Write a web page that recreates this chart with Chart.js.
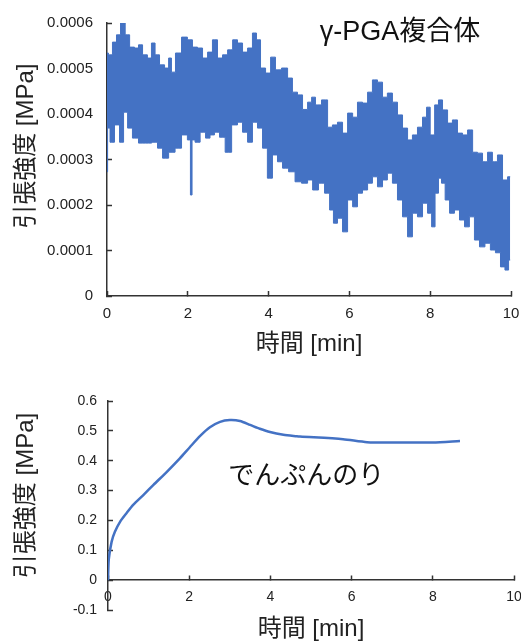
<!DOCTYPE html>
<html>
<head>
<meta charset="utf-8">
<script src="https://cdn.jsdelivr.net/npm/chart.js@4.4.1/dist/chart.umd.min.js"></script>
<style>
  html, body { margin: 0; padding: 0; background: #fff; }
  #wrap { position: relative; width: 521px; height: 641px; overflow: hidden; }
  canvas { position: absolute; left: 0; }
</style>
</head>
<body>
<div id="wrap">
  <canvas id="pgaChart" width="521" height="360" style="top:0"></canvas>
  <canvas id="starchChart" width="521" height="281" style="top:360px"></canvas>
</div>
<script>
// γ-PGA: upper and lower edge of the oscillating signal (time in min, stress in MPa)
const pgaUpperTime = [0, 0.07, 0.2, 0.27, 0.4, 0.5, 0.62, 0.74, 0.82, 0.94, 1.06, 1.14, 1.24, 1.36, 1.49, 1.56, 1.63, 1.76, 1.93, 2.05, 2.18, 2.3, 2.43, 2.55, 2.67, 2.8, 2.92, 3.05, 3.17, 3.29, 3.42, 3.54, 3.66, 3.74, 3.86, 3.99, 4.11, 4.23, 4.41, 4.53, 4.65, 4.78, 4.9, 5.03, 5.1, 5.22, 5.4, 5.52, 5.64, 5.77, 5.89, 6.02, 6.14, 6.26, 6.39, 6.51, 6.63, 6.76, 6.88, 7.0, 7.13, 7.25, 7.38, 7.5, 7.62, 7.75, 7.87, 7.95, 8.05, 8.17, 8.24, 8.37, 8.49, 8.61, 8.74, 8.86, 8.99, 9.11, 9.23, 9.36, 9.48, 9.6, 9.73, 9.85, 9.98];
const pgaUpper = [0.000534, 0.00053, 0.000558, 0.000574, 0.0006, 0.000574, 0.000547, 0.000545, 0.000552, 0.00053, 0.000523, 0.000556, 0.00053, 0.000508, 0.000501, 0.000523, 0.000492, 0.000534, 0.000569, 0.000563, 0.000547, 0.000545, 0.000523, 0.000536, 0.000563, 0.000523, 0.00053, 0.000541, 0.000563, 0.000556, 0.000536, 0.000545, 0.000578, 0.000563, 0.000501, 0.00049, 0.000525, 0.000497, 0.000501, 0.000479, 0.000448, 0.000442, 0.00041, 0.000426, 0.000437, 0.00042, 0.000431, 0.000371, 0.000376, 0.000382, 0.000358, 0.000402, 0.000393, 0.000426, 0.000424, 0.000448, 0.000475, 0.00047, 0.000437, 0.000446, 0.000426, 0.000398, 0.000369, 0.000343, 0.000354, 0.000371, 0.000393, 0.000415, 0.000354, 0.00042, 0.000431, 0.000409, 0.00038, 0.000387, 0.000358, 0.000354, 0.000365, 0.000316, 0.000314, 0.000295, 0.000316, 0.000295, 0.00031, 0.000255, 0.000262];
const pgaLowerTime = [0, 0.03, 0.12, 0.25, 0.37, 0.45, 0.57, 0.69, 0.87, 1.02, 1.19, 1.31, 1.44, 1.61, 1.76, 1.93, 2.05, 2.08, 2.13, 2.23, 2.38, 2.5, 2.6, 2.72, 2.85, 3.0, 3.17, 3.29, 3.42, 3.54, 3.66, 3.79, 3.91, 4.03, 4.16, 4.28, 4.41, 4.58, 4.73, 4.9, 5.03, 5.15, 5.32, 5.45, 5.57, 5.64, 5.77, 5.89, 6.02, 6.14, 6.26, 6.39, 6.51, 6.63, 6.76, 6.88, 7.0, 7.13, 7.25, 7.38, 7.5, 7.62, 7.75, 7.87, 8.0, 8.07, 8.17, 8.24, 8.32, 8.42, 8.54, 8.66, 8.79, 8.91, 9.03, 9.16, 9.28, 9.43, 9.55, 9.68, 9.8, 9.9, 9.98];
const pgaLower = [0.000273, 0.000369, 0.000338, 0.000376, 0.000338, 0.000404, 0.000369, 0.000347, 0.000336, 0.000336, 0.000338, 0.000325, 0.000303, 0.000316, 0.000325, 0.000354, 0.000343, 0.000222, 0.000343, 0.000338, 0.00036, 0.000347, 0.000354, 0.00036, 0.000349, 0.000316, 0.000376, 0.000382, 0.00036, 0.000338, 0.000382, 0.000369, 0.000325, 0.000259, 0.00031, 0.000295, 0.000281, 0.000273, 0.000251, 0.000248, 0.000255, 0.000233, 0.000248, 0.000226, 0.000189, 0.00016, 0.000171, 0.000141, 0.000211, 0.000196, 0.000226, 0.000233, 0.000248, 0.000262, 0.00024, 0.000255, 0.00027, 0.000248, 0.000211, 0.000174, 0.00013, 0.000182, 0.000174, 0.000204, 0.000182, 0.000152, 0.000226, 0.000259, 0.000248, 0.000211, 0.000182, 0.000189, 0.000167, 0.000152, 0.000174, 0.000123, 0.000108, 0.000116, 0.000101, 0.000095, 0.000064, 0.000057, 0.000079];

// でんぷんのり
const starchTime = [0, 0.02, 0.09, 0.17, 0.3, 0.46, 0.62, 0.87, 1.12, 1.45, 1.77, 2.02, 2.27, 2.51, 2.76, 3.0, 3.25, 3.5, 3.74, 3.99, 4.32, 4.65, 4.73, 5.79, 6.38, 7.19, 8.0, 8.67];
const starchStress = [0, 0.07, 0.129, 0.162, 0.196, 0.225, 0.252, 0.285, 0.319, 0.363, 0.408, 0.446, 0.483, 0.512, 0.53, 0.536, 0.533, 0.52, 0.507, 0.496, 0.487, 0.482, 0.481, 0.472, 0.462, 0.461, 0.461, 0.466];

const timeTicks = ['0', '2', '4', '6', '8', '10'];
const pgaTicks = ['0', '0.0001', '0.0002', '0.0003', '0.0004', '0.0005', '0.0006'];
const starchTicks = ['-0.1', '0', '0.1', '0.2', '0.3', '0.4', '0.5', '0.6'];

const FONT = '"Liberation Sans", "Noto Sans CJK JP", sans-serif';
const BLUE = '#4472C4';
const AXIS = '#333333';
const TEXT = '#222222';
Chart.defaults.font.family = FONT;

const toPoints = (xs, ys) => xs.map((x, i) => ({ x, y: ys[i] }));

// text label inside the plot, placed in data coordinates
const seriesLabel = {
  id: 'seriesLabel',
  afterDatasetsDraw(chart, args, opts) {
    const { ctx, scales } = chart;
    ctx.save();
    ctx.font = `${opts.size}px ${FONT}`;
    ctx.fillStyle = '#111';
    ctx.textAlign = 'center';
    ctx.textBaseline = 'middle';
    ctx.fillText(opts.text, scales.x.getPixelForValue(opts.x), scales.y.getPixelForValue(opts.y));
    ctx.restore();
  }
};

function axisGrid() {
  return { display: true, drawOnChartArea: false, tickLength: -5, tickColor: AXIS, tickWidth: 1.5 };
}

new Chart(document.getElementById('pgaChart'), {
  type: 'line',
  data: {
    datasets: [{
      data: toPoints(pgaUpperTime, pgaUpper),
      borderColor: BLUE,
      backgroundColor: BLUE,
      borderWidth: 1,
      pointRadius: 0,
      stepped: 'middle',
      fill: '+1'
    }, {
      data: toPoints(pgaLowerTime, pgaLower),
      borderColor: BLUE,
      borderWidth: 1,
      pointRadius: 0,
      stepped: 'middle',
      fill: false
    }]
  },
  plugins: [seriesLabel],
  options: {
    responsive: false,
    animation: false,
    devicePixelRatio: 1,
    layout: { padding: { left: 0, right: 10, top: 23, bottom: 0 } },
    plugins: {
      legend: { display: false },
      tooltip: { enabled: false },
      seriesLabel: { text: 'γ-PGA複合体', x: 7.25, y: 0.00058, size: 27 }
    },
    scales: {
      x: {
        type: 'linear', min: 0, max: 10,
        ticks: { stepSize: 2, padding: 14, color: TEXT, font: { size: 15 }, callback: (v, i) => timeTicks[i] },
        grid: axisGrid(),
        border: { display: true, color: AXIS, width: 1.5 },
        title: { display: true, text: '時間 [min]', color: TEXT, font: { size: 24 }, padding: { top: 0, bottom: 1 } },
        afterFit(s) { s.height = 64; s.paddingLeft = 0; s.paddingRight = 0; }
      },
      y: {
        min: 0, max: 0.0006,
        ticks: { stepSize: 0.0001, padding: 19, color: TEXT, font: { size: 15 }, callback: (v, i) => pgaTicks[i] },
        grid: axisGrid(),
        border: { display: true, color: AXIS, width: 1.5 },
        title: { display: true, text: '    引張強度 [MPa]', color: TEXT, font: { size: 24 }, padding: { top: 12, bottom: 0 } },
        afterFit(s) { s.width = 107; s.paddingTop = 0; s.paddingBottom = 0; }
      }
    }
  }
});

new Chart(document.getElementById('starchChart'), {
  type: 'line',
  data: {
    datasets: [{
      data: toPoints(starchTime, starchStress),
      borderColor: BLUE,
      borderWidth: 2.5,
      pointRadius: 0,
      tension: 0.25,
      fill: false
    }]
  },
  plugins: [seriesLabel],
  options: {
    responsive: false,
    animation: false,
    devicePixelRatio: 1,
    layout: { padding: { left: 0, right: 7, top: 41, bottom: 31 } },
    plugins: {
      legend: { display: false },
      tooltip: { enabled: false },
      seriesLabel: { text: 'でんぷんのり', x: 4.88, y: 0.346, size: 26 }
    },
    scales: {
      x: {
        type: 'linear', min: 0, max: 10,
        position: { y: 0 },
        ticks: { stepSize: 2, padding: 14, color: TEXT, font: { size: 14 }, callback: (v, i) => timeTicks[i] },
        grid: axisGrid(),
        border: { display: true, color: AXIS, width: 1.5 },
        title: { display: true, text: '時間 [min]', color: TEXT, font: { size: 24 }, padding: { top: 0, bottom: -33 } },
        afterFit(s) { s.height = 31; s.paddingLeft = 0; s.paddingRight = 0; }
      },
      y: {
        min: -0.1, max: 0.6,
        ticks: { stepSize: 0.1, padding: 16, color: TEXT, font: { size: 14 }, callback: (v, i) => starchTicks[i] },
        grid: axisGrid(),
        border: { display: true, color: AXIS, width: 1.5 },
        title: { display: true, text: '   引張強度 [MPa]', color: TEXT, font: { size: 24 }, padding: { top: 12, bottom: 0 } },
        afterFit(s) { s.width = 108; s.paddingTop = 0; s.paddingBottom = 0; }
      }
    }
  }
});
</script>
</body>
</html>
